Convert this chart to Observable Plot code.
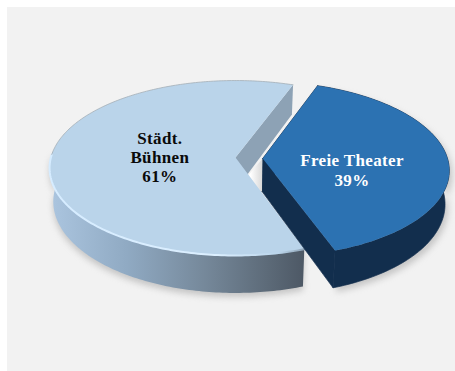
<!DOCTYPE html>
<html lang="de">
<head>
<meta charset="utf-8">
<style>
  html, body { margin: 0; padding: 0; background: #fff; }
  svg { display: block; }
  svg text { letter-spacing: 0.35px; }
</style>
<script src="https://cdn.jsdelivr.net/npm/d3@7"></script>
<script src="https://cdn.jsdelivr.net/npm/@observablehq/plot@0.6"></script>
</head>
<body>
<script>
// Shares of public theatre funding
const categories = ["Städt. Bühnen", "Freie Theater"];
const shares = [61, 39];
const labelLines = [["Städt.", "Bühnen", "61%"], ["Freie Theater", "39%"]];
const topColors = ["#bad4ea", "#2c72b2"];
const labelColors = ["#0a0a0a", "#ffffff"];

// Where each label block sits on the disc, in disc units
const labelU = [-0.41, 0.62];
const labelV = [0.0, 0.15];
const explodeU = [0, 0.147];
const explodeV = [0, 0.012];

// Perspective view of a unit disc lying on a table
const view = {cx: 235, cy: 157, a: 184.6, b: 86.2, k: 0.12, depth: 33, shrink: 0.98};
const project = (u, v, low = false) => {
  const w = 1 - view.k * v;
  return {
    x: view.cx + (view.a * u / w) * (low ? view.shrink : 1),
    y: view.cy + (view.b * v + (low ? view.depth : 0)) / w
  };
};

// Slice angles run clockwise from straight up, in degrees
const total = d3.sum(shares);
const startBlue = 20.3;
const sweepBlue = shares[1] / total * 360;
const sweepLight = shares[0] / total * 360;
const ranges = [
  [startBlue + sweepBlue, startBlue + sweepBlue + sweepLight],
  [startBlue, startBlue + sweepBlue]
];
const rim = (deg, i, low = false) => {
  const t = deg * Math.PI / 180;
  return project(Math.sin(t) + explodeU[i], -Math.cos(t) + explodeV[i], low);
};
const hub = (i, low = false) => project(explodeU[i], explodeV[i], low);
const arc = (from, to, i, low = false) =>
  d3.range(0, 121).map((s) => rim(from + (to - from) * s / 120, i, low));

// Polygons for every visible face
const topFace = (i) => [hub(i), ...arc(ranges[i][0], ranges[i][1], i)];
const outerWall = (from, to, i) => [...arc(from, to, i), ...arc(to, from, i, true)];
const cutWall = (deg, i) => [hub(i), rim(deg, i), rim(deg, i, true), hub(i, true)];

const face = (points, fill, extra = {}) =>
  Plot.line(points, {x: "x", y: "y", fill, stroke: "none", curve: "linear", ...extra});

const gradients = () => {
  const defs = d3.create("svg:defs");
  const band = (id, x1, x2, stops) => {
    const g = defs.append("linearGradient")
      .attr("id", id).attr("gradientUnits", "userSpaceOnUse")
      .attr("x1", x1).attr("x2", x2).attr("y1", 0).attr("y2", 0);
    stops.forEach(([o, c]) => g.append("stop").attr("offset", o).attr("stop-color", c));
  };
  band("lightWall", 50, 304, [[0, "#abc5df"], [0.3, "#90aac3"], [0.6, "#76899b"], [0.85, "#5d6b79"], [1, "#4d5865"]]);
  band("gapGlow", 250, 263, [[0, "#ffffff"], [1, "#d4d4d4"]]);
  band("rimGlow", 50, 304, [[0, "#d6ecff"], [0.65, "#dcefff"], [0.9, "#bad4ea"], [1, "#8fa3b5"]]);
  return defs.node();
};

const labelRows = labelLines.flatMap((lines, i) => {
  const p = project(labelU[i], labelV[i]);
  return lines.map((text, j) => ({
    text, x: p.x, y: p.y + (j - (lines.length - 1) / 2) * 19.3, fill: labelColors[i]
  }));
});

const navyEdge = {stroke: "#122e4d", strokeWidth: 0.7};

const chart = Plot.plot({
  width: 455,
  height: 371,
  margin: 0,
  x: {domain: [0, 455], axis: null},
  y: {domain: [371, 0], axis: null},
  marks: [
    gradients,
    Plot.rect([{}], {x1: () => 7, x2: () => 455, y1: () => 7, y2: () => 371, fill: "#f2f2f2"}),

    // Soft shadows on the table
    face(outerWall(ranges[0][0], 275, 0), "#9a9a9a", {
      dy: 4, opacity: 0.5, imageFilter: "blur(3px)"
    }),
    face(outerWall(ranges[1][0], ranges[1][1], 1), "#9a9a9a", {
      dy: 4, dx: 3, opacity: 0.5, imageFilter: "blur(3px)"
    }),

    // City theatres: cut wall and the bright gap beside it
    face(cutWall(ranges[0][1], 0), "#8da2b5"),
    face([hub(0, true), hub(1), hub(1, true)], "url(#gapGlow)"),

    // City theatres: outer wall and top
    face(outerWall(ranges[0][0], 275, 0), "url(#lightWall)"),
    face(topFace(0), topColors[0]),
    Plot.line(arc(ranges[0][0], 272, 0), {x: "x", y: "y", stroke: "url(#rimGlow)", strokeWidth: 2, imageFilter: "blur(0.7px)"}),
    Plot.line(arc(272, ranges[0][1], 0), {x: "x", y: "y", stroke: "#a5aeb6", strokeWidth: 0.8}),

    // Independent theatres: walls, then the top
    face(cutWall(ranges[1][0], 1), "#122e4d", navyEdge),
    face(cutWall(ranges[1][1], 1), "#122e4d", navyEdge),
    face(outerWall(ranges[1][0], ranges[1][1], 1), "#122e4d", navyEdge),
    face(topFace(1), topColors[1], {imageFilter: "blur(0.6px)"}),

    // Labels
    Plot.text(labelRows, {
      x: "x", y: "y", text: "text", fill: "fill",
      fontFamily: "Liberation Serif", fontWeight: "bold", fontSize: 17
    })
  ]
});
document.body.append(chart);
</script>
</body>
</html>
